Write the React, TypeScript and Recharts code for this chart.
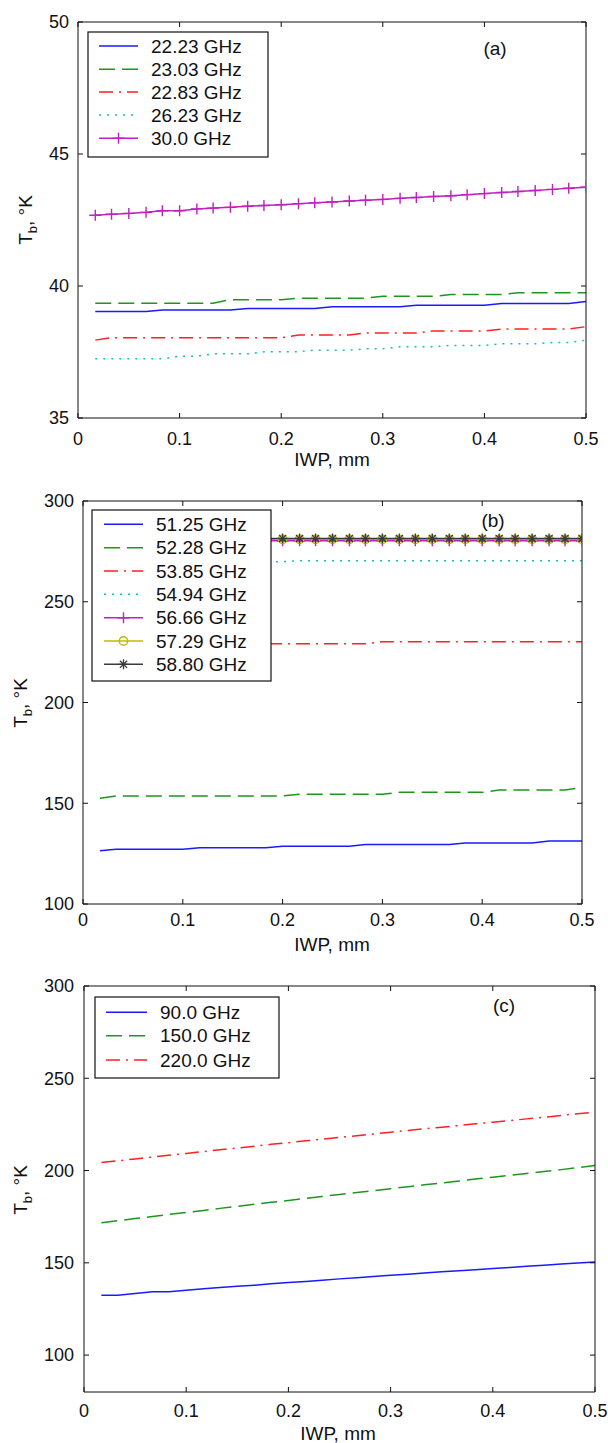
import React from 'react';
import { LineChart, Line, XAxis, YAxis } from 'recharts';

const FONT = '"Liberation Sans", Arial, Helvetica, sans-serif';

// IWP (mm) sample points
const IWP = [0.017, 0.033, 0.05, 0.067, 0.083, 0.1, 0.117, 0.133, 0.15, 0.167, 0.183, 0.2, 0.217, 0.233, 0.25,
  0.267, 0.283, 0.3, 0.317, 0.333, 0.35, 0.367, 0.383, 0.4, 0.417, 0.433, 0.45, 0.467, 0.483, 0.5];

const X_TICKS = [0, 0.1, 0.2, 0.3, 0.4, 0.5];
const X_TICK_LABELS = ['0', '0.1', '0.2', '0.3', '0.4', '0.5'];
const A_Y_TICKS = [35, 40, 45, 50];
const B_Y_TICKS = [100, 150, 200, 250, 300];
const C_Y_TICKS = [100, 150, 200, 250, 300];

// Panel (a)
const A_NAMES = ['22.23 GHz', '23.03 GHz', '22.83 GHz', '26.23 GHz', '30.0 GHz'];
const A_22_23 = [39.03, 39.03, 39.03, 39.03, 39.09, 39.09, 39.09, 39.09, 39.09, 39.15, 39.15, 39.15, 39.15, 39.15, 39.21,
  39.21, 39.21, 39.21, 39.21, 39.27, 39.27, 39.27, 39.27, 39.27, 39.34, 39.34, 39.34, 39.34, 39.34, 39.41];
const A_23_03 = [39.35, 39.35, 39.35, 39.35, 39.35, 39.35, 39.35, 39.35, 39.48, 39.48, 39.48, 39.48, 39.54, 39.54, 39.54,
  39.54, 39.54, 39.61, 39.61, 39.61, 39.61, 39.68, 39.68, 39.68, 39.68, 39.74, 39.74, 39.74, 39.74, 39.74];
const A_22_83 = [37.95, 38.04, 38.04, 38.04, 38.04, 38.04, 38.04, 38.04, 38.04, 38.04, 38.04, 38.04, 38.14, 38.14, 38.14,
  38.14, 38.22, 38.22, 38.22, 38.22, 38.3, 38.3, 38.3, 38.3, 38.37, 38.37, 38.37, 38.37, 38.37, 38.46];
const A_26_23 = [37.24, 37.24, 37.24, 37.24, 37.24, 37.34, 37.34, 37.43, 37.43, 37.43, 37.51, 37.51, 37.51, 37.57, 37.57,
  37.57, 37.62, 37.62, 37.7, 37.7, 37.7, 37.75, 37.75, 37.75, 37.81, 37.81, 37.81, 37.86, 37.86, 37.95];
const A_30_0 = [42.68, 42.72, 42.75, 42.79, 42.85, 42.85, 42.92, 42.95, 42.98, 43.02, 43.05, 43.08, 43.12, 43.15, 43.18,
  43.22, 43.25, 43.28, 43.32, 43.35, 43.39, 43.42, 43.46, 43.5, 43.54, 43.58, 43.62, 43.66, 43.7, 43.74];

// Panel (b)
const B_NAMES = ['51.25 GHz', '52.28 GHz', '53.85 GHz', '54.94 GHz', '56.66 GHz', '57.29 GHz', '58.80 GHz'];
const B_51_25 = [126.4, 127.2, 127.2, 127.2, 127.2, 127.2, 127.9, 127.9, 127.9, 127.9, 127.9, 128.7, 128.7, 128.7, 128.7,
  128.7, 129.5, 129.5, 129.5, 129.5, 129.5, 129.5, 130.3, 130.3, 130.3, 130.3, 130.3, 131.3, 131.3, 131.3];
const B_52_28 = [152.5, 153.6, 153.6, 153.6, 153.6, 153.6, 153.6, 153.6, 153.6, 153.6, 153.6, 153.6, 154.5, 154.5, 154.5,
  154.5, 154.5, 154.5, 155.4, 155.4, 155.4, 155.4, 155.4, 155.4, 156.6, 156.6, 156.6, 156.6, 156.6, 157.7];
const B_53_85 = [229.2, 229.2, 229.2, 229.2, 229.2, 229.2, 229.2, 229.2, 229.2, 229.2, 229.2, 229.2, 229.2, 229.2, 229.2,
  229.2, 229.2, 230.2, 230.2, 230.2, 230.2, 230.2, 230.2, 230.2, 230.2, 230.2, 230.2, 230.2, 230.2, 230.2];
const B_54_94 = [269.9, 269.9, 269.9, 269.9, 269.9, 269.9, 269.9, 269.9, 269.9, 269.9, 269.9, 269.9, 270.4, 270.4, 270.4,
  270.4, 270.4, 270.4, 270.4, 270.4, 270.4, 270.4, 270.4, 270.4, 270.4, 270.4, 270.4, 270.4, 270.4, 270.4];
const B_56_66 = [280.3, 280.3, 280.3, 280.3, 280.3, 280.3, 280.3, 280.3, 280.3, 280.3, 280.3, 280.3, 280.3, 280.3, 280.3,
  280.3, 280.3, 280.3, 280.3, 280.3, 280.3, 280.3, 280.3, 280.3, 280.3, 280.3, 280.3, 280.3, 280.3, 280.3];
const B_57_29 = [281.0, 281.0, 281.0, 281.0, 281.0, 281.0, 281.0, 281.0, 281.0, 281.0, 281.0, 281.0, 281.0, 281.0, 281.0,
  281.0, 281.0, 281.0, 281.0, 281.0, 281.0, 281.0, 281.0, 281.0, 281.0, 281.0, 281.0, 281.0, 281.0, 281.0];
const B_58_80 = [281.4, 281.4, 281.4, 281.4, 281.4, 281.4, 281.4, 281.4, 281.4, 281.4, 281.4, 281.4, 281.4, 281.4, 281.4,
  281.4, 281.4, 281.4, 281.4, 281.4, 281.4, 281.4, 281.4, 281.4, 281.4, 281.4, 281.4, 281.4, 281.4, 281.4];

// Panel (c)
const C_NAMES = ['90.0 GHz', '150.0 GHz', '220.0 GHz'];
const C_90 = [132.4, 132.4, 133.4, 134.3, 134.3, 135.2, 135.9, 136.6, 137.3, 137.9, 138.6, 139.3, 139.9, 140.6, 141.3,
  141.9, 142.6, 143.2, 143.8, 144.5, 145.1, 145.7, 146.3, 146.9, 147.5, 148.1, 148.7, 149.3, 149.9, 150.5];
const C_150 = [171.7, 172.8, 174.0, 175.1, 176.2, 177.3, 178.4, 179.5, 180.6, 181.7, 182.8, 183.8, 184.9, 186.0, 187.0,
  188.1, 189.1, 190.2, 191.2, 192.3, 193.3, 194.3, 195.4, 196.4, 197.4, 198.4, 199.5, 200.5, 201.6, 202.7];
const C_220 = [204.3, 205.3, 206.3, 207.3, 208.3, 209.3, 210.3, 211.3, 212.2, 213.2, 214.2, 215.1, 216.1, 217.0, 218.0,
  218.9, 219.8, 220.8, 221.7, 222.6, 223.5, 224.4, 225.3, 226.2, 227.1, 228.0, 228.9, 229.9, 230.8, 231.7];

// Styles
type Marker = 'plus' | 'circle' | 'star' | null;
interface Style { color: string; dash?: string; marker: Marker }
const S_BLUE: Style = { color: '#1a1aff', marker: null };
const S_GREEN: Style = { color: '#1e961e', dash: '16 7', marker: null };
const S_RED: Style = { color: '#ff2020', dash: '14 6 2 6', marker: null };
const S_CYAN: Style = { color: '#10c0c0', dash: '2 6', marker: null };
const S_MAGENTA: Style = { color: '#c020c0', marker: 'plus' };
const S_YELLOW: Style = { color: '#bcbc00', marker: 'circle' };
const S_BLACK: Style = { color: '#3a3a3a', marker: 'star' };

interface Series extends Style { name: string; values: number[] }
const A_SERIES: Series[] = [
  { name: A_NAMES[0], values: A_22_23, ...S_BLUE },
  { name: A_NAMES[1], values: A_23_03, ...S_GREEN },
  { name: A_NAMES[2], values: A_22_83, ...S_RED },
  { name: A_NAMES[3], values: A_26_23, ...S_CYAN },
  { name: A_NAMES[4], values: A_30_0, ...S_MAGENTA },
];
const B_SERIES: Series[] = [
  { name: B_NAMES[0], values: B_51_25, ...S_BLUE },
  { name: B_NAMES[1], values: B_52_28, ...S_GREEN },
  { name: B_NAMES[2], values: B_53_85, ...S_RED },
  { name: B_NAMES[3], values: B_54_94, ...S_CYAN },
  { name: B_NAMES[4], values: B_56_66, ...S_MAGENTA },
  { name: B_NAMES[5], values: B_57_29, ...S_YELLOW },
  { name: B_NAMES[6], values: B_58_80, ...S_BLACK },
];
const C_SERIES: Series[] = [
  { name: C_NAMES[0], values: C_90, ...S_BLUE },
  { name: C_NAMES[1], values: C_150, ...S_GREEN },
  { name: C_NAMES[2], values: C_220, ...S_RED },
];

function MarkerShape({ kind, x, y, color }: { kind: Marker; x: number; y: number; color: string }) {
  if (kind === 'plus') {
    return <path d={`M${x - 6},${y}H${x + 6}M${x},${y - 5.5}V${y + 5.5}`} stroke={color} strokeWidth={1.4} fill="none" />;
  }
  if (kind === 'circle') {
    return <circle cx={x} cy={y} r={4.2} stroke={color} strokeWidth={1.4} fill="none" />;
  }
  if (kind === 'star') {
    const d = 3.6;
    return (
      <path
        d={`M${x - 5},${y}H${x + 5}M${x},${y - 5}V${y + 5}M${x - d},${y - d}L${x + d},${y + d}M${x - d},${y + d}L${x + d},${y - d}`}
        stroke={color}
        strokeWidth={1.3}
        fill="none"
      />
    );
  }
  return null;
}

const makeDot = (kind: Marker, color: string) => (props: any) => {
  const { cx, cy, index } = props;
  if (cx == null || cy == null || isNaN(cx) || isNaN(cy)) return <g key={`d${index}`} />;
  return (
    <g key={`d${index}`}>
      <MarkerShape kind={kind} x={cx} y={cy} color={color} />
    </g>
  );
};

const noTick = () => <g />;

const fmtX = (v: number) => {
  const i = X_TICKS.indexOf(v);
  return i >= 0 ? X_TICK_LABELS[i] : String(v);
};

interface PanelProps {
  top: number;
  height: number;
  margin: { top: number; right: number; bottom: number; left: number };
  yDomain: [number, number];
  yTicks: number[];
  series: Series[];
  xTickMargin: number;
  yTickMargin: number;
}

function Panel({ top, height, margin, yDomain, yTicks, series, xTickMargin, yTickMargin }: PanelProps) {
  const rows = IWP.map((x, i) => {
    const r: Record<string, number> = { x };
    series.forEach((s, j) => {
      r['s' + j] = s.values[i];
    });
    return r;
  });
  const tickStyle = { fill: '#111', fontSize: 18, fontFamily: FONT };
  return (
    <div style={{ position: 'absolute', left: 0, top }}>
      <LineChart width={608} height={height} data={rows} margin={margin}>
        <XAxis
          dataKey="x"
          type="number"
          domain={[0, 0.5]}
          ticks={X_TICKS}
          tickFormatter={fmtX}
          allowDataOverflow
          interval={0}
          height={40}
          tickSize={-5}
          tickMargin={xTickMargin}
          stroke="#111"
          tick={tickStyle}
        />
        <XAxis
          xAxisId="top"
          dataKey="x"
          orientation="top"
          type="number"
          domain={[0, 0.5]}
          ticks={X_TICKS}
          allowDataOverflow
          interval={0}
          height={1}
          tickSize={-5}
          tick={noTick}
          stroke="#111"
        />
        <YAxis
          type="number"
          domain={yDomain}
          ticks={yTicks}
          allowDataOverflow
          interval={0}
          width={50}
          tickSize={-5}
          tickMargin={yTickMargin}
          stroke="#111"
          tick={tickStyle}
        />
        <YAxis
          yAxisId="right"
          orientation="right"
          type="number"
          domain={yDomain}
          ticks={yTicks}
          allowDataOverflow
          interval={0}
          width={1}
          tickSize={-5}
          tick={noTick}
          stroke="#111"
        />
        {/* invisible series that ties the frame axes (top / right) to the data */}
        <Line
          xAxisId="top"
          yAxisId="right"
          dataKey="s0"
          stroke="none"
          dot={false}
          activeDot={false}
          legendType="none"
          isAnimationActive={false}
        />
        {series.map((s, j) => (
          <Line
            key={s.name}
            dataKey={'s' + j}
            type="linear"
            stroke={s.color}
            strokeWidth={1.5}
            strokeDasharray={s.dash}
            dot={s.marker ? makeDot(s.marker, s.color) : false}
            activeDot={false}
            isAnimationActive={false}
          />
        ))}
      </LineChart>
    </div>
  );
}

interface LegendProps {
  series: Series[];
  box: { x0: number; y0: number; x1: number; y1: number };
  rowY: number[];
  sampleX: [number, number];
  textX: number;
}

function LegendBox({ series, box, rowY, sampleX, textX }: LegendProps) {
  const mid = (sampleX[0] + sampleX[1]) / 2;
  return (
    <g>
      <rect x={box.x0} y={box.y0} width={box.x1 - box.x0} height={box.y1 - box.y0} fill="#fff" stroke="#111" strokeWidth={1.2} />
      {series.map((s, i) => (
        <g key={s.name}>
          <line x1={sampleX[0]} x2={sampleX[1]} y1={rowY[i]} y2={rowY[i]} stroke={s.color} strokeWidth={1.5} strokeDasharray={s.dash} />
          {s.marker && <MarkerShape kind={s.marker} x={mid} y={rowY[i]} color={s.color} />}
          <text x={textX} y={rowY[i]} dominantBaseline="central" fontSize={19} fontFamily={FONT} fill="#111">
            {s.name}
          </text>
        </g>
      ))}
    </g>
  );
}

function YLabel({ x, y }: { x: number; y: number }) {
  return (
    <text transform={`translate(${x},${y}) rotate(-90)`} textAnchor="middle" fontSize={19} fontFamily={FONT} fill="#111">
      T<tspan fontSize={13} dy={5}>b</tspan>
      <tspan dy={-5}>, °K</tspan>
    </text>
  );
}

export default function App() {
  return (
    <div style={{ position: 'absolute', left: 0, top: 0, width: 608, height: 1443, background: '#fff', overflow: 'hidden' }}>
      <Panel
        top={0}
        height={480}
        margin={{ top: 21, right: 21, bottom: 22, left: 28 }}
        yDomain={[35, 50]}
        yTicks={A_Y_TICKS}
        series={A_SERIES}
        xTickMargin={19}
        yTickMargin={14}
      />
      <Panel
        top={480}
        height={480}
        margin={{ top: 20, right: 25, bottom: 16, left: 33 }}
        yDomain={[100, 300]}
        yTicks={B_Y_TICKS}
        series={B_SERIES}
        xTickMargin={14}
        yTickMargin={14}
      />
      <Panel
        top={960}
        height={483}
        margin={{ top: 25, right: 12, bottom: 11, left: 34 }}
        yDomain={[80, 300]}
        yTicks={C_Y_TICKS}
        series={C_SERIES}
        xTickMargin={17}
        yTickMargin={15}
      />
      <svg width={608} height={1443} style={{ position: 'absolute', left: 0, top: 0, pointerEvents: 'none' }}>
        <LegendBox
          series={A_SERIES}
          box={{ x0: 88, y0: 32, x1: 268, y1: 157 }}
          rowY={[46, 69.3, 92, 115, 138.3]}
          sampleX={[99, 138]}
          textX={151}
        />
        <LegendBox
          series={B_SERIES}
          box={{ x0: 92, y0: 510, x1: 271, y1: 681 }}
          rowY={[524.3, 547.7, 571, 594.3, 617.7, 641, 664.3]}
          sampleX={[104, 143]}
          textX={156}
        />
        <LegendBox
          series={C_SERIES}
          box={{ x0: 95, y0: 997, x1: 279, y1: 1078 }}
          rowY={[1012.3, 1035.7, 1060]}
          sampleX={[106, 147]}
          textX={160}
        />
        <text x={495} y={48} textAnchor="middle" dominantBaseline="central" fontSize={19} fontFamily={FONT} fill="#111">(a)</text>
        <text x={493} y={520} textAnchor="middle" dominantBaseline="central" fontSize={19} fontFamily={FONT} fill="#111">(b)</text>
        <text x={504} y={1005} textAnchor="middle" dominantBaseline="central" fontSize={19} fontFamily={FONT} fill="#111">(c)</text>
        <text x={332} y={466} textAnchor="middle" fontSize={19} fontFamily={FONT} fill="#111">IWP, mm</text>
        <text x={332} y={951} textAnchor="middle" fontSize={19} fontFamily={FONT} fill="#111">IWP, mm</text>
        <text x={338} y={1440} textAnchor="middle" fontSize={19} fontFamily={FONT} fill="#111">IWP, mm</text>
        <YLabel x={32} y={220} />
        <YLabel x={27} y={703} />
        <YLabel x={27} y={1190} />
      </svg>
    </div>
  );
}
